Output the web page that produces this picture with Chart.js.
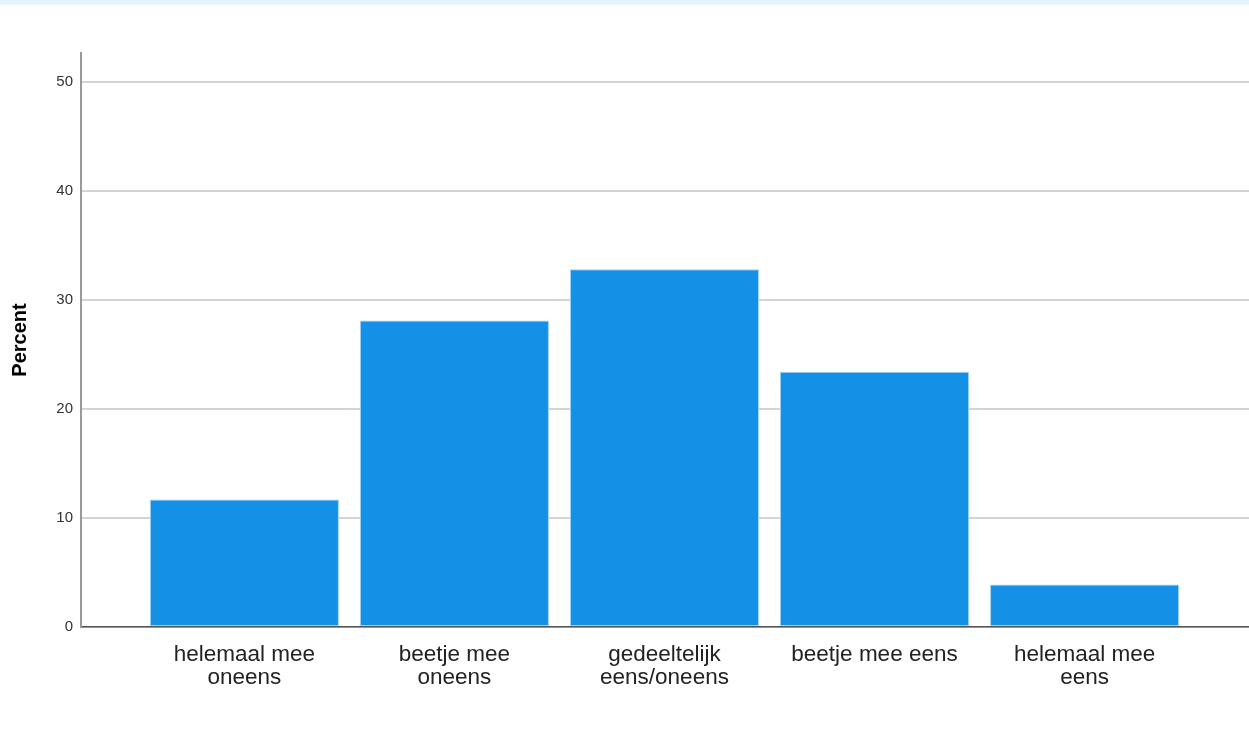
<!DOCTYPE html>
<html>
<head>
<meta charset="utf-8">
<script src="https://cdn.jsdelivr.net/npm/chart.js@4/dist/chart.umd.min.js"></script>
<style>
  html, body { margin: 0; padding: 0; background: #fff; }
  #wrap { position: relative; width: 1249px; height: 751px; }
  #band { position: absolute; left: 0; top: 0; width: 1249px; height: 5px; background: #e6f5fd; }
</style>
</head>
<body>
<div id="wrap">
  <canvas id="barChart" width="1249" height="751"></canvas>
  <div id="band"></div>
</div>
<script>
// Chart data
const categories = [
    ['helemaal mee', 'oneens'],
    ['beetje mee', 'oneens'],
    ['gedeeltelijk', 'eens/oneens'],
    ['beetje mee eens'],
    ['helemaal mee', 'eens']
];
const percents = [11.7, 28.1, 32.8, 23.4, 3.9];
const yTicks = [0, 10, 20, 30, 40, 50];

const fontFamily = '"Liberation Sans", Arial, sans-serif';

const ctx = document.getElementById('barChart').getContext('2d');

new Chart(ctx, {
    type: 'bar',
    data: {
        datasets: [{
            label: 'Percent',
            data: percents.map((v, i) => ({ x: i, y: v })),
            backgroundColor: '#1491e6',
            borderColor: '#9fd0f3',
            borderWidth: 1,
            borderSkipped: false,
            barPercentage: 0.9,
            categoryPercentage: 1.0
        }]
    },
    options: {
        responsive: false,
        animation: false,
        layout: {
            padding: { top: 53, left: 0, right: 0, bottom: 0 }
        },
        plugins: {
            legend: { display: false },
            tooltip: { enabled: false }
        },
        scales: {
            x: {
                type: 'linear',
                offset: false,
                min: -0.778,
                max: 4.783,
                grid: { display: false, drawTicks: false },
                border: { display: true, color: '#555', width: 1.5 },
                afterBuildTicks: (scale) => {
                    scale.ticks = categories.map((_, i) => ({ value: i }));
                },
                afterFit: (scale) => { scale.height = 124; },
                ticks: {
                    autoSkip: false,
                    maxRotation: 0,
                    padding: 16,
                    color: '#222',
                    font: { family: fontFamily, size: 22.5, lineHeight: 1.03 },
                    callback: (value) => categories[value]
                }
            },
            y: {
                min: 0,
                max: 52.63,
                grid: { color: '#d4d4d4', lineWidth: 2, drawTicks: false },
                border: { display: true, color: '#999', width: 2 },
                afterBuildTicks: (scale) => {
                    scale.ticks = yTicks.map(v => ({ value: v }));
                },
                afterFit: (scale) => { scale.width = 81; },
                ticks: {
                    padding: 8,
                    color: '#333',
                    font: { family: fontFamily, size: 15 }
                },
                title: {
                    display: true,
                    text: 'Percent',
                    color: '#000',
                    padding: { top: 8, bottom: 0 },
                    font: { family: fontFamily, size: 20, weight: 'bold' }
                }
            }
        }
    }
});
</script>
</body>
</html>
